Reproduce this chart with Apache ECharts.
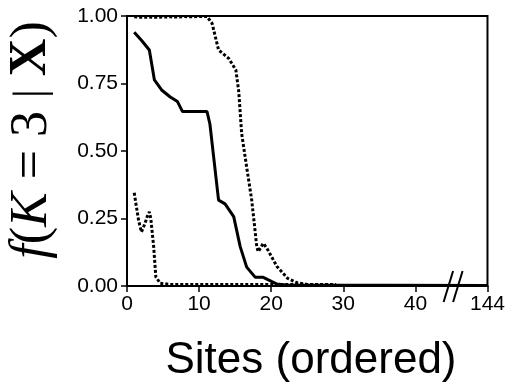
<!DOCTYPE html>
<html>
<head>
<meta charset="utf-8">
<script src="https://cdn.jsdelivr.net/npm/echarts@6/dist/echarts.min.js"></script>
<style>
html,body{margin:0;padding:0;background:#fff;}
#c{width:508px;height:388px;}
</style>
</head>
<body>
<div id="c"></div>
<script>
// x ticks (axis value -> label); value 50 stands for site 144 after the axis break
var xTickValues = [0, 10, 20, 30, 40, 50];
var xTickLabels = ['0', '10', '20', '30', '40', '144'];
var yTickLabels = ['0.00', '0.25', '0.50', '0.75', '1.00'];
var breakAt = 45.3;

// solid line
var solidSeries = [[1,0.94],[2,0.91],[3.1,0.874],[3.8,0.763],[4.8,0.726],[6,0.70],[7,0.683],[7.7,0.646],
  [11.1,0.646],[11.5,0.60],[12.7,0.318],[13.6,0.304],[14.8,0.257],[15.7,0.146],[16.6,0.07],[17.8,0.032],
  [18.9,0.032],[20.1,0.016],[20.8,0.007],[22,0.004],[50,0.002]];
// dotted upper line
var dottedUpper = [[1,0.997],[2,0.995],[3,0.996],[4,0.995],[5,0.996],[6,0.997],[7,0.996],[8,0.998],[9,0.997],
  [10,0.998],[11.1,0.998],[11.8,0.973],[12.7,0.874],[14.1,0.843],[15.1,0.80],[15.5,0.72],[15.9,0.565],
  [16.6,0.44],[17.3,0.318],[18.0,0.146],[18.2,0.127],[18.9,0.158],[19.4,0.14],[20.8,0.072],[22.3,0.028],
  [23.6,0.012],[25,0.006],[29,0.005]];
// dotted lower line
var dottedLower = [[1,0.345],[1.6,0.244],[2.0,0.20],[2.5,0.232],[2.8,0.257],[3.1,0.275],[3.3,0.25],
  [3.7,0.146],[4.0,0.034],[4.6,0.01],[6,0.006],[29,0.005]];

var chart = echarts.init(document.getElementById('c'));
var axisFont = {fontFamily: 'Liberation Sans', fontSize: 21, color: '#000'};
chart.setOption({
  animation: false,
  backgroundColor: '#fff',
  grid: {left: 127, right: 20, top: 16, bottom: 102, show: true, borderColor: '#000', borderWidth: 2},
  xAxis: {
    type: 'value', min: 0, max: 50, interval: 10,
    axisLine: {lineStyle: {color: '#000', width: 2}},
    axisTick: {length: 6, lineStyle: {color: '#000', width: 1.5}},
    splitLine: {show: false},
    axisLabel: Object.assign({margin: 8, formatter: function (v) {
      var i = xTickValues.indexOf(v); return i >= 0 ? xTickLabels[i] : '';
    }}, axisFont)
  },
  yAxis: {
    type: 'value', min: 0, max: 1, interval: 0.25,
    axisLine: {show: true, lineStyle: {color: '#000', width: 2}},
    axisTick: {show: true, length: 6, lineStyle: {color: '#000', width: 1.5}},
    splitLine: {show: false},
    axisLabel: Object.assign({margin: 9, formatter: function (v) {
      return yTickLabels[Math.round(v / 0.25)];
    }}, axisFont)
  },
  series: [
    {type: 'line', data: solidSeries, showSymbol: false, lineStyle: {color: '#000', width: 3}},
    {type: 'line', data: dottedUpper, showSymbol: false, lineStyle: {color: '#000', width: 3, type: [3, 2]}},
    {type: 'line', data: dottedLower, showSymbol: false, lineStyle: {color: '#000', width: 3, type: [3, 2]}}
  ]
});

var p0 = chart.convertToPixel({gridIndex: 0}, [breakAt, 0]);
var graphics = [
  {type: 'line', shape: {x1: p0[0] - 10, y1: p0[1] + 16, x2: p0[0] - 0.5, y2: p0[1] - 15}, style: {stroke: '#000', lineWidth: 2}},
  {type: 'line', shape: {x1: p0[0] - 0.5, y1: p0[1] + 16, x2: p0[0] + 9, y2: p0[1] - 15}, style: {stroke: '#000', lineWidth: 2}},
  {type: 'text', x: 311, y: 339, style: {text: 'Sites (ordered)', fontFamily: 'Liberation Sans', fontSize: 44, fill: '#000', align: 'center', verticalAlign: 'top'}},
  {type: 'text', x: 32, y: 140, rotation: Math.PI / 2, style: {
    text: '{i|f}{n|(}{i|K}{n| = 3 }{m||}{n| }{b|X}{n|)}', align: 'center', verticalAlign: 'middle',
    rich: {
      i: {fontFamily: 'Liberation Serif', fontStyle: 'italic', fontSize: 52, fill: '#000'},
      n: {fontFamily: 'Liberation Serif', fontSize: 52, fill: '#000'},
      m: {fontFamily: 'Liberation Serif', fontSize: 44, fill: '#000'},
      b: {fontFamily: 'Liberation Serif', fontWeight: 'bold', fontSize: 52, fill: '#000'}
    }
  }}
];
chart.setOption({graphic: graphics});
</script>
</body>
</html>
